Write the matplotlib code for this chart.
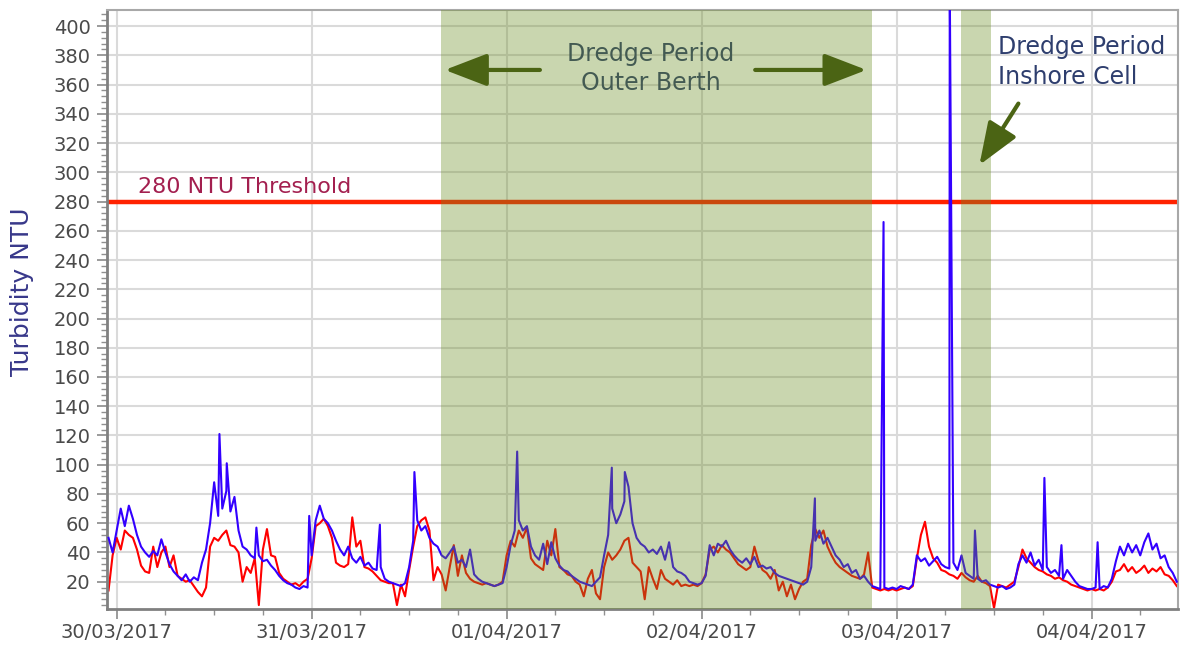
import matplotlib
matplotlib.use('Agg')
import matplotlib.pyplot as plt
import matplotlib.dates as mdates
from matplotlib.ticker import MultipleLocator
import pandas as pd

# half-hourly readings starting 29/03/2017 23:00
start = '2017-03-29 23:00'

blue_vals = [
    50, 40, 55, 70, 58, 72, 63, 52, 44, 40, 37, 41,
    38, 49, 40, 32, 27, 24, 21, 25, 20, 23, 21, 33,
    42, 60, 88, 65, 70, 82, 68, 78, 55, 44, 42, 38,
    36, 38, 34, 35, 31, 28, 24, 21, 19, 18, 16, 15,
    17, 16, 38, 62, 72, 63, 60, 55, 48, 42, 38, 44,
    36, 33, 37, 31, 33, 29, 28, 30, 22, 20, 19, 18,
    17, 19, 30, 48, 62, 55, 58, 50, 46, 44, 38, 36,
    40, 44, 33, 35, 30, 42, 25, 22, 20, 19, 18, 17,
    18, 19, 30, 45, 55, 62, 55, 58, 44, 38, 35, 46,
    32, 47, 36, 31, 28, 27, 24, 22, 20, 19, 18, 17,
    20, 23, 38, 52, 70, 60, 66, 75, 85, 60, 50, 46,
    44, 40, 42, 39, 44, 35, 47, 30, 27, 26, 24, 20,
    19, 18, 19, 24, 45, 38, 46, 44, 48, 42, 38, 35,
    33, 36, 32, 37, 30, 31, 29, 30, 26, 24, 23, 22,
    21, 20, 19, 18, 20, 30, 48, 55, 46, 50, 44, 38,
    35, 30, 32, 26, 28, 22, 24, 20, 17, 16, 15, 16,
    15, 16, 15, 17, 16, 15, 18, 38, 34, 36, 31, 34,
    37, 32, 30, 29, 33, 28, 38, 26, 24, 22, 22, 20,
    21, 18, 17, 16, 17, 15, 16, 18, 32, 38, 33, 40,
    31, 35, 28, 30, 26, 28, 24, 22, 28, 24, 20, 17,
    16, 15, 15, 16, 15, 17, 16, 22, 34, 44, 38, 46,
    40, 45, 38, 47, 53, 42, 46, 36, 38, 30, 26, 20,
]

red_vals = [
    14, 38, 50, 42, 55, 52, 50, 42, 31, 27, 26, 44,
    30, 40, 44, 30, 38, 24, 22, 20, 21, 17, 13, 10,
    16, 44, 50, 48, 52, 55, 45, 44, 40, 20, 30, 26,
    36, 4, 42, 56, 38, 37, 26, 22, 20, 18, 19, 17,
    20, 22, 36, 58, 60, 63, 58, 50, 33, 31, 30, 32,
    64, 44, 48, 30, 29, 27, 24, 21, 20, 19, 19, 4,
    18, 10, 28, 44, 58, 62, 64, 55, 21, 30, 25, 14,
    30, 45, 24, 38, 26, 22, 20, 19, 18, 19, 18, 17,
    18, 20, 38, 48, 44, 55, 50, 57, 36, 32, 30, 28,
    48, 38, 56, 30, 28, 25, 24, 20, 18, 10, 22, 28,
    12, 8, 30, 40, 35, 38, 42, 48, 50, 33, 30, 27,
    8, 30, 22, 15, 28, 22, 20, 18, 21, 17, 18, 17,
    18, 17, 19, 25, 42, 44, 40, 45, 42, 40, 36, 32,
    30, 28, 30, 44, 34, 28, 26, 22, 28, 14, 20, 10,
    18, 8, 15, 20, 22, 45, 56, 50, 55, 44, 38, 33,
    30, 28, 26, 24, 23, 22, 25, 40, 16, 15, 14, 15,
    14, 15, 14, 15, 16, 15, 17, 36, 52, 61, 44, 36,
    33, 28, 27, 25, 24, 22, 26, 23, 21, 20, 24, 20,
    19, 17, 2, 18, 17, 16, 18, 20, 30, 42, 36, 33,
    30, 28, 27, 25, 24, 22, 23, 21, 20, 18, 17, 16,
    15, 14, 15, 14, 15, 14, 16, 20, 27, 28, 32, 27,
    30, 26, 28, 31, 26, 29, 27, 30, 25, 24, 21, 17,
]

# short single-reading spikes in the blue logger (hours after 30/03 00:00)
blue_spike_hours = [12.65, 13.55, 17.2, 23.7, 32.4, 36.65, 49.3, 60.95,
                    62.55, 85.95, 94.4, 102.55, 105.65, 114.2, 116.3, 120.75]
blue_spike_vals = [121, 101, 57, 65, 59, 95, 109, 98,
                   95, 77, 266, 430, 55, 91, 45, 47]

threshold = 280
outer_berth = ('2017-03-31 15:54', '2017-04-02 21:00')
inshore_cell = ('2017-04-03 07:54', '2017-04-03 11:38')

day0 = pd.Timestamp('2017-03-30')


def hx(h):
    return mdates.date2num(day0 + pd.Timedelta(hours=h))


blue = pd.Series(blue_vals, index=pd.date_range(start, periods=len(blue_vals), freq='30min'))
spk = pd.Series(blue_spike_vals, index=day0 + pd.to_timedelta(blue_spike_hours, unit='h'))
blue = pd.concat([blue, spk]).sort_index()
red = pd.Series(red_vals, index=pd.date_range(start, periods=len(red_vals), freq='30min'))

fig = plt.figure(figsize=(11.84, 6.49), dpi=100)
ax = fig.add_axes([0.0901, 0.0609, 0.9052, 0.9237])

shade = (107 / 255, 142 / 255, 35 / 255)

ax.axhline(threshold, color='#ff2200', lw=3.2, zorder=2)
ax.plot(red.index, red.values, color='#ff0000', lw=1.5, zorder=2.5)
ax.plot(blue.index, blue.values, color='#3300ff', lw=1.5, zorder=3)

ax.text(hx(65.7), 371, 'Dredge Period\nOuter Berth', ha='center', va='center',
        fontsize=17, color='#2e3e6e', linespacing=1.3, zorder=3.5)

for a, b in (outer_berth, inshore_cell):
    ax.axvspan(pd.Timestamp(a), pd.Timestamp(b), color=shade, alpha=0.36, lw=0, zorder=4)

arrow = dict(arrowstyle='-|>,head_length=1.3,head_width=0.5', color='#4b6414',
             lw=3, mutation_scale=20, shrinkA=0, shrinkB=0)
ax.annotate('', xy=(hx(40.4), 370), xytext=(hx(52.1), 370), arrowprops=arrow, zorder=5)
ax.annotate('', xy=(hx(92.3), 370), xytext=(hx(78.6), 370), arrowprops=arrow, zorder=5)
ax.annotate('', xy=(hx(106.2), 305), xytext=(hx(111.0), 347), arrowprops=arrow, zorder=5)

ax.text(hx(108.5), 375.5, 'Dredge Period\nInshore Cell', ha='left', va='center',
        fontsize=17, color='#2e3e6e', linespacing=1.3, zorder=5)
ax.text(hx(2.6), 286, '280 NTU Threshold', ha='left', va='baseline',
        fontsize=16, color='#a31f4f', zorder=5)

ax.set_xlim(hx(-1.23), hx(130.7))
ax.set_ylim(1, 411)

ax.xaxis.set_major_locator(mdates.DayLocator())
ax.xaxis.set_major_formatter(mdates.DateFormatter('%d/%m/%Y'))
ax.xaxis.set_minor_locator(mdates.HourLocator(byhour=[6, 12, 18]))
ax.yaxis.set_major_locator(MultipleLocator(20))
ax.yaxis.set_minor_locator(MultipleLocator(4))
ax.set_yticks(range(20, 401, 20))

ax.set_axisbelow(True)
ax.grid(True, which='major', color='#dadada', lw=1.5)

ax.tick_params(which='major', length=7.5, width=1.1, color='#808080',
               labelsize=14, labelcolor='#4a4a4a')
ax.tick_params(which='minor', length=4.5, width=1.0, color='#909090')
ax.tick_params(axis='y', which='major', pad=4)
ax.tick_params(axis='x', which='major', pad=2)

for side in ('left', 'bottom'):
    ax.spines[side].set_color('#808080')
    ax.spines[side].set_linewidth(2)
for side in ('top', 'right'):
    ax.spines[side].set_color('#a8a8a8')
    ax.spines[side].set_linewidth(1.5)

fig.text(0.0186, 0.551, 'Turbidity NTU', rotation=90, ha='center', va='center',
         fontsize=18, color='#38388a')

fig.savefig('out.png', dpi=100)
